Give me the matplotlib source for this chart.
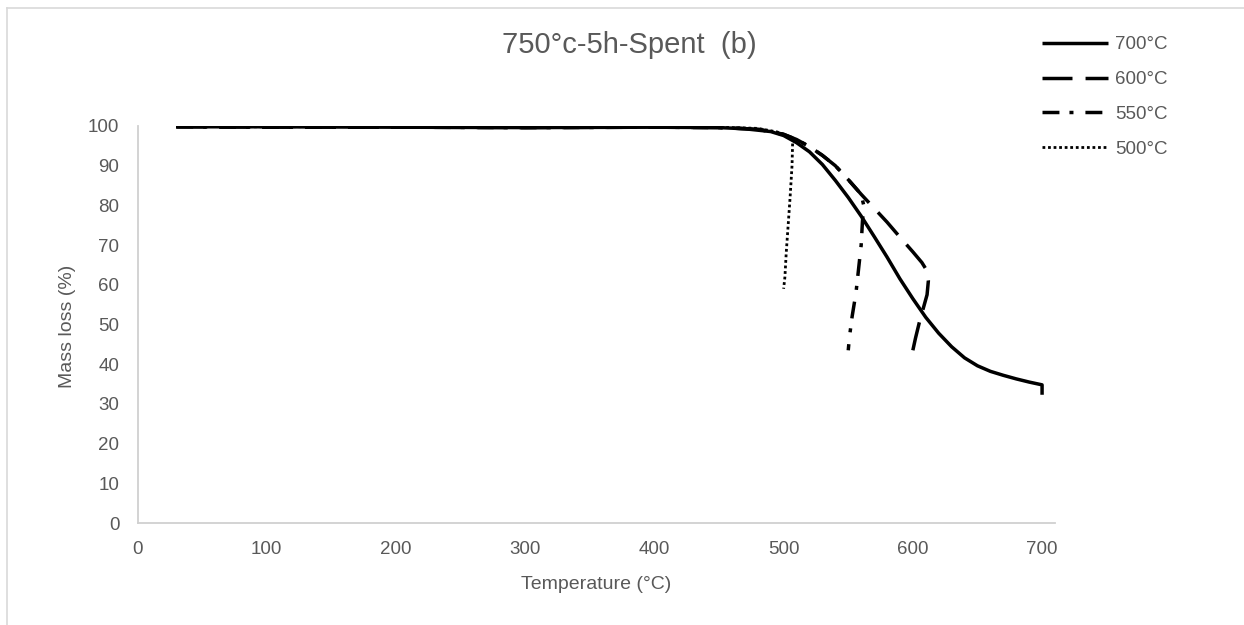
import matplotlib
matplotlib.use("Agg")
import matplotlib.pyplot as plt
from matplotlib.lines import Line2D

plt.rcParams['font.family'] = ['Liberation Sans', 'DejaVu Sans']
plt.rcParams['lines.scale_dashes'] = False

# --- data (temperature in degC, mass in %) ---
t700 = [30, 100, 200, 300, 400, 450, 470, 490, 500, 510, 520, 530, 540, 550,
        560, 570, 580, 590, 600, 610, 620, 630, 640, 650, 660, 670, 680, 690,
        700, 700]
m700 = [99.8, 99.8, 99.7, 99.6, 99.7, 99.6, 99.3, 98.6, 97.6, 95.8, 93.5,
        90.3, 86.3, 82.0, 77.3, 72.2, 67.0, 61.5, 56.5, 51.8, 47.8, 44.4,
        41.6, 39.6, 38.2, 37.2, 36.3, 35.5, 34.8, 32.3]

t600 = [30, 100, 200, 300, 400, 450, 480, 500, 510, 520, 530, 540, 550, 560,
        570, 580, 590, 600, 607, 611, 612, 611, 608, 605, 602, 600]
m600 = [99.8, 99.7, 99.7, 99.6, 99.7, 99.6, 99.2, 97.9, 96.6, 94.8, 92.6,
        90.0, 86.5, 82.8, 79.3, 75.8, 72.0, 68.3, 65.6, 63.5, 61.0, 57.5,
        54.0, 50.5, 46.5, 43.5]

t550 = [30, 100, 200, 300, 400, 450, 480, 500, 510, 520, 530, 540, 550, 560,
        562, 561, 560, 558, 556, 553, 551, 550]
m550 = [99.8, 99.7, 99.7, 99.6, 99.7, 99.6, 99.2, 97.9, 96.6, 94.8, 92.6,
        90.0, 86.5, 82.8, 80.0, 76.0, 70.0, 64.0, 58.0, 52.0, 47.0, 43.5]

t500 = [30, 100, 200, 300, 400, 450, 480, 495, 503, 507, 506.5, 505, 503.5,
        502, 501, 500]
m500 = [99.9, 99.8, 99.9, 100.1, 99.8, 99.7, 99.4, 98.5, 97.5, 96.3, 90.0,
        82.0, 75.0, 68.0, 62.0, 59.0]

labels = ['700°C', '600°C', '550°C', '500°C']
xticks = [0, 100, 200, 300, 400, 500, 600, 700]
yticks = [0, 10, 20, 30, 40, 50, 60, 70, 80, 90, 100]

W, H = 1244, 625
txt = '#595959'
axc = '#D0D0D0'

fig = plt.figure(figsize=(W / 100, H / 100), dpi=100)
ax = fig.add_axes([137.5 / W, 1 - 523 / H, (1055 - 137.5) / W, (523 - 126) / H])

lw = 2.5
l7, = ax.plot(t700, m700, color='black', lw=lw, zorder=5, solid_capstyle='butt')
l6, = ax.plot(t600, m600, color='black', lw=lw, zorder=4, dashes=(21.6, 9.4))
l5, = ax.plot(t550, m550, color='black', lw=lw, zorder=3, dashes=(12.2, 7.2, 2.9, 8.6))
l4, = ax.plot(t500, m500, color='black', lw=2.0, zorder=2, dashes=(2.0, 2.0))

ax.set_xlim(0, 710)
ax.set_ylim(0, 100)
ax.set_xticks(xticks)
ax.set_yticks(yticks)
ax.tick_params(length=0, labelsize=13.5, labelcolor=txt, pad=13)
for s in ['top', 'right']:
    ax.spines[s].set_visible(False)
for s in ['left', 'bottom']:
    ax.spines[s].set_color(axc)
    ax.spines[s].set_linewidth(1.3)

ax.set_xlabel('Temperature (°C)', fontsize=14, color=txt, labelpad=13)
fig.text(67 / W, 1 - 326 / H, 'Mass loss (%)', rotation=90, fontsize=14,
         color=txt, ha='center', va='center')
fig.text(629 / W, 1 - 45 / H, '750°c-5h-Spent  (b)', fontsize=21, color=txt,
         ha='center', va='center')

leg = ax.legend([l7, l6, l5, l4], labels, loc='upper left',
                bbox_to_anchor=(1042 / W, 1 - 36 / H), bbox_transform=fig.transFigure,
                frameon=False, fontsize=13.5, borderpad=0, borderaxespad=0,
                handlelength=3.5, handletextpad=0.4, labelspacing=0.95)
for t in leg.get_texts():
    t.set_color(txt)

# light frame around the chart area
fig.add_artist(Line2D([7 / W, 7 / W], [0, 1 - 8 / H], color='#D9D9D9', lw=1.2,
                      transform=fig.transFigure))
fig.add_artist(Line2D([7 / W, 1], [1 - 8 / H, 1 - 8 / H], color='#D9D9D9', lw=1.2,
                      transform=fig.transFigure))

fig.savefig('out.png', dpi=100)
